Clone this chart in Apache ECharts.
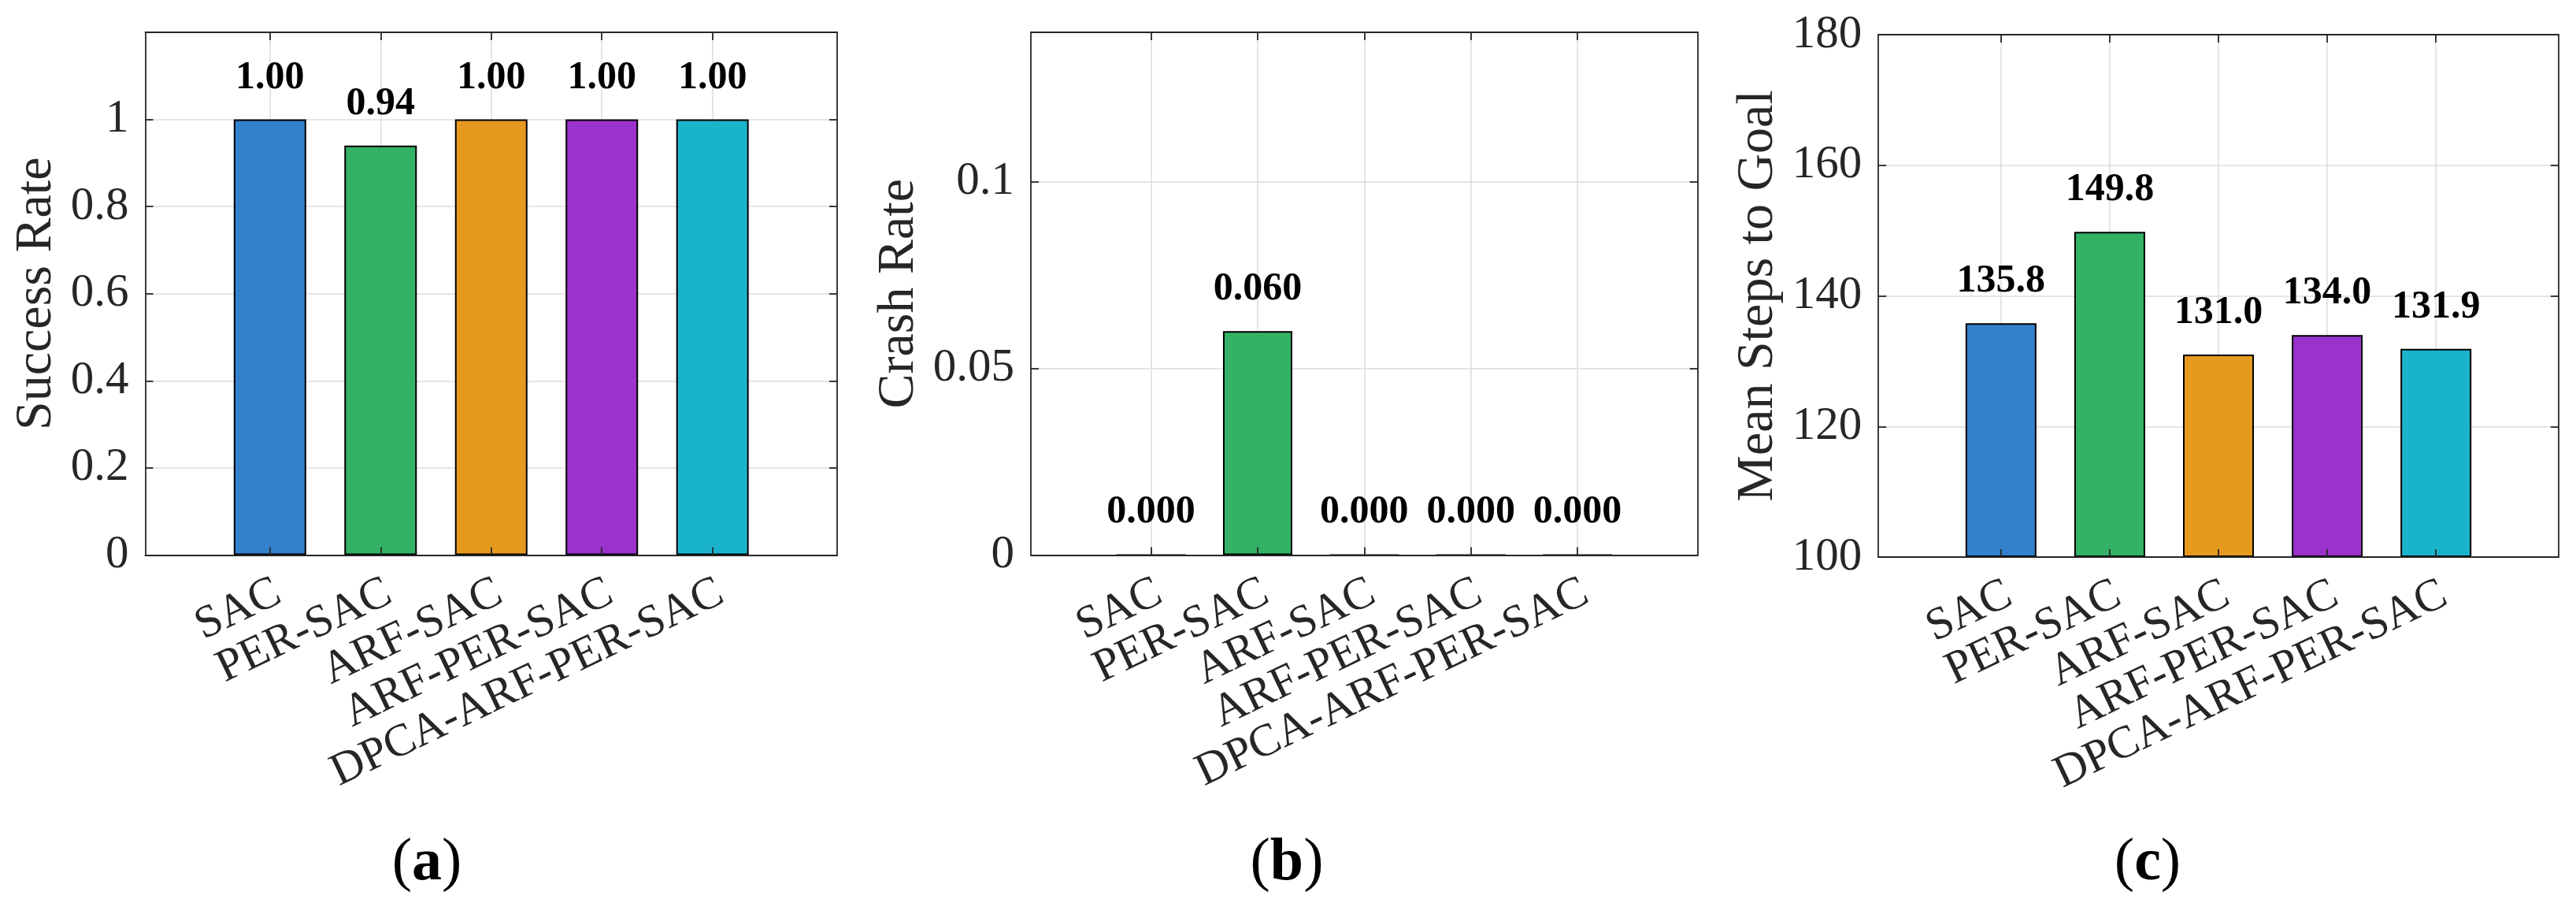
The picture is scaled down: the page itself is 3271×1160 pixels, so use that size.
<!DOCTYPE html>
<html><head><meta charset="utf-8">
<script src="https://cdn.jsdelivr.net/npm/echarts@6/dist/echarts.min.js"></script>
<style>html,body{margin:0;padding:0;background:#fff}#c{width:3271px;height:1160px}</style>
</head><body><div id="c"></div>
<script>
const categories = ['SAC', 'PER-SAC', 'ARF-SAC', 'ARF-PER-SAC', 'DPCA-ARF-PER-SAC'];
const xPositions = [1, 2, 3, 4, 5];
const successRate = [1.00, 0.94, 1.00, 1.00, 1.00];
const crashRate = [0.000, 0.060, 0.000, 0.000, 0.000];
const meanSteps = [135.8, 149.8, 131.0, 134.0, 131.9];
const successTicks = [0, 0.2, 0.4, 0.6, 0.8, 1];
const crashTicks = [0, 0.05, 0.1];
const stepsTicks = [100, 120, 140, 160, 180];
const barColors = ['#3380CC', '#33B266', '#E6991F', '#9933CC', '#1AB3CC'];
const yTitles = ['Success Rate', 'Crash Rate', 'Mean Steps to Goal'];
const captionLetters = ['a', 'b', 'c'];

const FONT = "'Liberation Serif', 'Times New Roman', serif";
const AX = '#262626';
const X_MIN = -0.127, X_MAX = 6.127;

const panels = [
  { grid: { left: 184.5, top: 41, width: 878.5, height: 663.5 }, values: successRate, digits: 2,
    yMin: 0, yMax: 1.2, ticks: successTicks, nameGap: 105, barWidth: 92, capX: 542 },
  { grid: { left: 1309, top: 41, width: 846.7, height: 663.5 }, values: crashRate, digits: 3,
    yMin: 0, yMax: 0.14, ticks: crashTicks, nameGap: 134, barWidth: 88, capX: 1634 },
  { grid: { left: 2385.2, top: 44, width: 863.6, height: 663 }, values: meanSteps, digits: 1,
    yMin: 100, yMax: 180, ticks: stepsTicks, nameGap: 120, barWidth: 90, capX: 2727 }
];

const grid = [], xAxis = [], yAxis = [], series = [], graphic = [];
const lineStyle = { color: AX, width: 1.8 };
const tickStyle = { color: AX, width: 1.8 };

panels.forEach((p, i) => {
  grid.push(Object.assign({ containLabel: false, outerBoundsMode: 'none' }, p.grid));
  const base = i * 3;
  xAxis.push({
    gridIndex: i, type: 'value', position: 'bottom', min: X_MIN, max: X_MAX, z: 0,
    axisLine: { show: false, onZero: false },
    axisTick: { show: false, customValues: xPositions },
    axisLabel: {
      customValues: xPositions, formatter: v => categories[Math.round(v) - 1],
      rotate: 25.5, margin: 50, padding: [0, -12, 0, 0],
      fontSize: 58, fontFamily: FONT, color: AX, hideOverlap: false
    },
    splitLine: { show: true, lineStyle: { color: '#DCDCDC', width: 1.5 } }
  });
  xAxis.push({
    gridIndex: i, type: 'value', position: 'bottom', min: X_MIN, max: X_MAX, z: 10,
    axisLine: { show: true, onZero: false, lineStyle },
    axisTick: { show: true, inside: true, length: 10, customValues: xPositions, lineStyle: tickStyle },
    axisLabel: { show: false }, splitLine: { show: false }
  });
  xAxis.push({
    gridIndex: i, type: 'value', position: 'top', min: X_MIN, max: X_MAX, z: 10,
    axisLine: { show: true, onZero: false, lineStyle },
    axisTick: { show: true, inside: true, length: 10, customValues: xPositions, lineStyle: tickStyle },
    axisLabel: { show: false }, splitLine: { show: false }
  });
  yAxis.push({
    gridIndex: i, type: 'value', position: 'left', min: p.yMin, max: p.yMax, z: 0,
    startValue: p.yMin,
    name: yTitles[i], nameLocation: 'middle', nameRotate: 90, nameGap: p.nameGap, nameMoveOverlap: false,
    nameTextStyle: { fontSize: 66, fontFamily: FONT, color: AX },
    axisLine: { show: false, onZero: false },
    axisTick: { show: false, customValues: p.ticks },
    axisLabel: { customValues: p.ticks, margin: 21, fontSize: 59, fontFamily: FONT, color: AX },
    splitLine: { show: true, lineStyle: { color: '#DCDCDC', width: 1.5 } }
  });
  yAxis.push({
    gridIndex: i, type: 'value', position: 'left', min: p.yMin, max: p.yMax, z: 10,
    axisLine: { show: true, onZero: false, lineStyle },
    axisTick: { show: true, inside: true, length: 10, customValues: p.ticks, lineStyle: tickStyle },
    axisLabel: { show: false }, splitLine: { show: false }
  });
  yAxis.push({
    gridIndex: i, type: 'value', position: 'right', min: p.yMin, max: p.yMax, z: 10,
    axisLine: { show: true, onZero: false, lineStyle },
    axisTick: { show: true, inside: true, length: 10, customValues: p.ticks, lineStyle: tickStyle },
    axisLabel: { show: false }, splitLine: { show: false }
  });
  series.push({
    type: 'bar', xAxisIndex: base, yAxisIndex: base, barWidth: p.barWidth, clip: true, silent: true,
    itemStyle: { borderColor: '#000', borderWidth: 2 },
    label: {
      show: true, position: 'top', distance: 28,
      formatter: q => q.value[1].toFixed(p.digits),
      fontFamily: FONT, fontWeight: 'bold', fontSize: 50, color: '#000'
    },
    data: p.values.map((v, j) => ({ value: [xPositions[j], v], itemStyle: { color: barColors[j] } }))
  });
  graphic.push({
    type: 'text', x: p.capX, y: 1096, silent: true,
    style: {
      text: '{p|(}{l|' + captionLetters[i] + '}{p|)}', align: 'center', verticalAlign: 'middle',
      rich: {
        p: { fontFamily: FONT, fontSize: 76, color: '#000' },
        l: { fontFamily: FONT, fontSize: 76, fontWeight: 'bold', color: '#000' }
      }
    }
  });
});

const chart = echarts.init(document.getElementById('c'));
chart.setOption({
  animation: false, backgroundColor: '#fff',
  grid, xAxis, yAxis, series, graphic
});
</script></body></html>
